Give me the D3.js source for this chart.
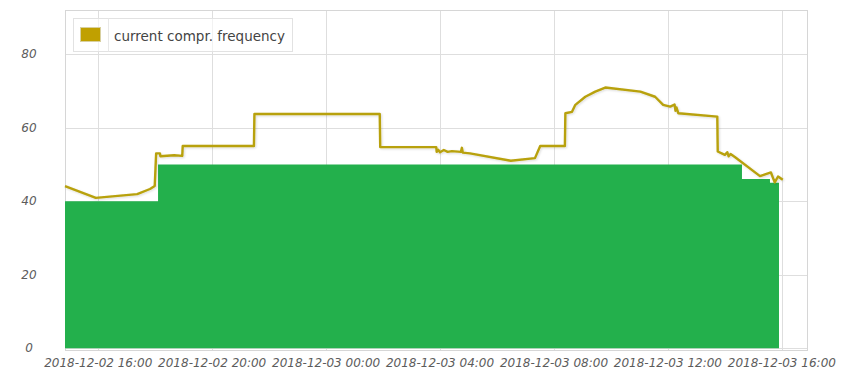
<!DOCTYPE html>
<html>
<head>
<meta charset="utf-8">
<script src="https://cdn.jsdelivr.net/npm/d3@7"></script>
<style>
  body { margin: 0; background: #fff; }
  text { font-family: "DejaVu Sans", Verdana, sans-serif; }
</style>
</head>
<body>
<div id="chart"></div>
<script>
// series name
var seriesName = 'current compr. frequency';

// line: current compressor frequency (time, value)
var freqTimes = [
  '2018-12-02 14:50', '2018-12-02 15:55', '2018-12-02 17:22', '2018-12-02 17:49', '2018-12-02 17:59',
  '2018-12-02 18:02', '2018-12-02 18:10', '2018-12-02 18:11', '2018-12-02 18:40', '2018-12-02 18:57',
  '2018-12-02 18:58', '2018-12-02 21:28', '2018-12-02 21:29', '2018-12-03 01:53', '2018-12-03 01:54',
  '2018-12-03 03:52', '2018-12-03 03:53', '2018-12-03 03:56', '2018-12-03 04:00', '2018-12-03 04:08',
  '2018-12-03 04:16', '2018-12-03 04:25', '2018-12-03 04:44', '2018-12-03 04:46', '2018-12-03 04:48',
  '2018-12-03 05:03', '2018-12-03 06:29', '2018-12-03 07:20', '2018-12-03 07:31', '2018-12-03 08:23',
  '2018-12-03 08:24', '2018-12-03 08:38', '2018-12-03 08:45', '2018-12-03 09:06', '2018-12-03 09:27',
  '2018-12-03 09:48', '2018-12-03 11:02', '2018-12-03 11:33', '2018-12-03 11:50', '2018-12-03 12:05',
  '2018-12-03 12:14', '2018-12-03 12:16', '2018-12-03 12:18', '2018-12-03 12:22', '2018-12-03 13:44',
  '2018-12-03 13:45', '2018-12-03 14:00', '2018-12-03 14:05', '2018-12-03 14:08', '2018-12-03 14:12',
  '2018-12-03 14:21', '2018-12-03 15:14', '2018-12-03 15:37', '2018-12-03 15:45', '2018-12-03 15:52',
  '2018-12-03 16:02'
];
var freqValues = [
  44.1, 40.9, 41.9, 43.3, 44.1,
  53.0, 53.0, 52.2, 52.5, 52.3,
  55.0, 55.0, 63.7, 63.7, 54.7,
  54.7, 53.4, 54.0, 53.3, 53.9,
  53.4, 53.6, 53.4, 54.5, 53.2,
  53.0, 51.0, 51.7, 55.0, 55.0,
  63.9, 64.3, 66.2, 68.4, 69.8,
  70.9, 69.8, 68.4, 66.2, 65.7,
  66.3, 64.6, 65.5, 63.9, 63.0,
  53.5, 52.6, 53.3, 52.2, 52.8,
  52.0, 46.8, 47.8, 45.1, 46.7,
  45.8
];

// green step area (step start times, values)
var stepTimes = ['2018-12-02 14:50', '2018-12-02 18:06', '2018-12-03 14:36', '2018-12-03 15:35', '2018-12-03 15:54'];
var stepValues = [40, 50, 46, 45, 45];

// axes
var xTickTimes = ['2018-12-02 16:00', '2018-12-02 20:00', '2018-12-03 00:00', '2018-12-03 04:00',
  '2018-12-03 08:00', '2018-12-03 12:00', '2018-12-03 16:00'];
var yTicks = [0, 20, 40, 60, 80];
var xDomain = ['2018-12-02 14:50', '2018-12-03 16:53'];
var yDomain = [-0.5, 92];

var parse = d3.timeParse('%Y-%m-%d %H:%M');
var fmt = d3.timeFormat('%Y-%m-%d %H:%M');

var width = 850, height = 375;
var plot = { left: 65, right: 807, top: 10, bottom: 350 };

var svg = d3.select('#chart').append('svg')
  .attr('width', width)
  .attr('height', height);

var x = d3.scaleTime().domain(xDomain.map(parse)).range([plot.left, plot.right]);
var y = d3.scaleLinear().domain(yDomain).range([plot.bottom, plot.top]);

// soft shadow for the line
var defs = svg.append('defs');
var f = defs.append('filter').attr('id', 'shadow').attr('x', '-5%').attr('y', '-20%')
  .attr('width', '110%').attr('height', '140%');
f.append('feDropShadow').attr('dx', 1).attr('dy', 1).attr('stdDeviation', 1)
  .attr('flood-color', '#000').attr('flood-opacity', 0.15);

// grid
svg.append('g').selectAll('line')
  .data(yTicks)
  .enter().append('line')
  .attr('x1', plot.left).attr('x2', plot.right)
  .attr('y1', function (d) { return Math.round(y(d)) + 0.5; })
  .attr('y2', function (d) { return Math.round(y(d)) + 0.5; })
  .attr('stroke', '#dedede');

svg.append('g').selectAll('line')
  .data(xTickTimes.map(parse))
  .enter().append('line')
  .attr('x1', function (d) { return Math.round(x(d)) + 0.5; })
  .attr('x2', function (d) { return Math.round(x(d)) + 0.5; })
  .attr('y1', plot.top).attr('y2', plot.bottom)
  .attr('stroke', '#dedede');

svg.append('rect')
  .attr('x', plot.left + 0.5).attr('y', plot.top + 0.5)
  .attr('width', plot.right - plot.left).attr('height', plot.bottom - plot.top)
  .attr('fill', 'none').attr('stroke', '#d6d6d6');

// green step area
var stepData = stepTimes.map(function (t, i) { return { t: parse(t), v: stepValues[i] }; });
svg.append('path')
  .datum(stepData)
  .attr('fill', '#23b04c')
  .attr('d', d3.area()
    .curve(d3.curveStepAfter)
    .x(function (d) { return x(d.t); })
    .y0(function () { return y(0); })
    .y1(function (d) { return y(d.v); }));

// frequency line
var lineData = freqTimes.map(function (t, i) { return { t: parse(t), v: freqValues[i] }; });
svg.append('path')
  .datum(lineData)
  .attr('fill', 'none')
  .attr('stroke', '#b8a10a')
  .attr('stroke-width', 2.4)
  .attr('stroke-linejoin', 'round')
  .attr('filter', 'url(#shadow)')
  .attr('d', d3.line()
    .x(function (d) { return x(d.t); })
    .y(function (d) { return y(d.v); }));

// y labels
svg.append('g').selectAll('text')
  .data(yTicks)
  .enter().append('text')
  .attr('x', 29)
  .attr('y', function (d) { return y(d); })
  .attr('dy', '0.35em')
  .attr('text-anchor', 'middle')
  .attr('font-size', 12)
  .attr('font-style', 'italic')
  .attr('fill', '#5c5c5c')
  .text(function (d) { return d; });

// x labels
svg.append('g').selectAll('text')
  .data(xTickTimes.map(parse))
  .enter().append('text')
  .attr('x', function (d) { return x(d); })
  .attr('y', 367)
  .attr('text-anchor', 'middle')
  .attr('font-size', 12)
  .attr('font-style', 'italic')
  .attr('fill', '#5c5c5c')
  .text(function (d) { return fmt(d); });

// legend
var legend = svg.append('g');
legend.append('rect')
  .attr('x', 73.5).attr('y', 18.5).attr('width', 219).attr('height', 33)
  .attr('fill', '#fff').attr('fill-opacity', 0.6)
  .attr('stroke', '#e2e2e2');
legend.append('line')
  .attr('x1', 108.5).attr('x2', 108.5).attr('y1', 18.5).attr('y2', 51.5)
  .attr('stroke', '#e8e8e8');
legend.append('rect')
  .attr('x', 80.5).attr('y', 27.5).attr('width', 20).attr('height', 14)
  .attr('fill', '#c0a000').attr('stroke', '#d8d0a0');
legend.append('text')
  .attr('x', 114).attr('y', 40.5)
  .attr('font-size', 13.5)
  .attr('fill', '#444')
  .text(seriesName);
</script>
</body>
</html>
